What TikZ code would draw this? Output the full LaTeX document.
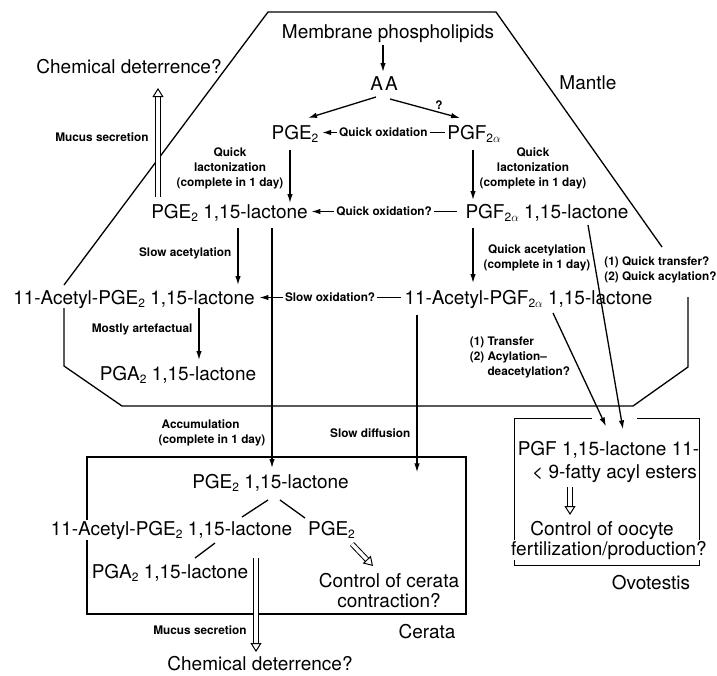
\documentclass[tikz,border=0pt]{standalone}
\usepackage{fontspec}
\setmainfont{TeX Gyre Heros}
\usetikzlibrary{calc}
\usetikzlibrary{arrows.meta}
\newcommand{\pgsub}[1]{\raisebox{-3.5pt}{\fontsize{12}{12}\selectfont#1}}

\begin{document}
\begin{tikzpicture}[unit length/.code={{\newdimen\tikzunit}\setlength{\tikzunit}{#1}},unit length=1pt,x=\tikzunit,y=-\tikzunit,line width=1.3pt,big/.style={font=\fontsize{19}{19.5}\selectfont,inner sep=1pt,anchor=base},lbl/.style={font=\fontsize{11.8}{15}\selectfont\bfseries,inner sep=2pt,align=center},wire/.style={draw,-{Latex[length=9pt,width=5.5pt]}},link/.style={draw},hollow/.style={draw,double,double distance=3.5pt,line width=1pt,-{Triangle[open,length=9pt,width=11pt,line width=1pt]}},frame/.style={rectangle,draw,sharp corners},outer box/.style={draw=none}]
  \useasboundingbox (0,0) rectangle (717,675);
  \draw (64,308) -- (64,366) -- (122,406) -- (633,406) -- (688,367) -- (688,297);
  \draw (662,247) -- (496,12) -- (268,12) -- (64,285);
  \node[big] (n1) at (388,38) {Membrane phospholipids};
  \node[big] (n2) at (384,90) {A\kern2pt A};
  \node[big] (n3) at (295,139) {PGE\pgsub{2}};
  \node[big] (n4) at (474,139) {PGF\pgsub{2$\alpha$}};
  \node[big] (n5) at (229.5,218) {PGE\pgsub{2} 1,15-lactone};
  \node[big] (n6) at (547,218) {PGF\pgsub{2$\alpha$} 1,15-lactone};
  \node[big] (n7) at (134,304) {11-Acetyl-PGE\pgsub{2} 1,15-lactone};
  \node[big] (n8) at (528.5,304) {11-Acetyl-PGF\pgsub{2$\alpha$} 1,15-lactone};
  \node[big] (n9) at (178,380) {PGA\pgsub{2} 1,15-lactone};
  \node[big] (n10) at (129,73) {Chemical deterrence?};
  \node[big] (n11) at (588,89) {Mantle};
  \node[frame,minimum width=379\tikzunit,minimum height=157\tikzunit] (n12) at (276.5,535.5) {};
  \node[big] (n13) at (270.5,488) {PGE\pgsub{2} 1,15-lactone};
  \node[big,fill=white] (n14) at (171.5,535) {11-Acetyl-PGE\pgsub{2} 1,15-lactone};
  \node[big] (n15) at (331.5,535) {PGE\pgsub{2}};
  \node[big] (n16) at (170,578) {PGA\pgsub{2} 1,15-lactone};
  \node[big,align=center,anchor=north] (n17) at (389,572) {Control of cerata\\contraction?};
  \node[big] (n18) at (427,638) {Cerata};
  \node[big] (n19) at (260,670) {Chemical deterrence?};
  \node[outer box,minimum width=184\tikzunit,minimum height=146\tikzunit] (n20) at (607,492) {};
  \draw ($(n20.north)+(-15,0)$) -- (n20.north west) -- (n20.south west) -- (n20.south east) -- (n20.north east) -- ($(n20.north)+(30,0)$);
  \node[big] (n21) at (608.5,455) {PGF 1,15-lactone 11-};
  \node[big] (n22) at (614.5,478) {< 9-fatty acyl esters};
  \node[big] (n23) at (602,535) {Control of oocyte};
  \node[big,fill=white,inner sep=0.5pt] (n24) at (609,555) {fertilization/production?};
  \node[big] (n25) at (651,589) {Ovotestis};
  \path[wire] ($(n1.base)+(-5,7)$) -- ($(n2.base)+(-1,-18)$);
  \path[wire] ($(n2.base)+(-8,7)$) -- ($(n3.base)+(13,-21)$);
  \path[wire] ($(n2.base)+(6,9)$) -- node[lbl,above,pos=0.7] {?} ($(n4.base)+(-14,-21)$);
  \path[wire] ($(n4.base west)+(-1,-6.5)$) -- node[lbl,fill=white] {Quick oxidation} ($(n3.base east)+(2,-6.5)$);
  \path[wire] ($(n3.base)+(-5,11)$) -- node[lbl,left=4pt,pos=0.35] {Quick\\lactonization\\(complete in 1 day)} ($(n5.base)+(60.5,-15)$);
  \path[wire] ($(n4.base)+(-1,11)$) -- node[lbl,right=4pt,pos=0.36] {Quick\\lactonization\\(complete in 1 day)} ($(n6.base)+(-74,-18)$);
  \path[wire] ($(n6.base west)+(-7,-6.5)$) -- node[lbl,fill=white] {Quick oxidation?} ($(n5.base east)+(2,-6.5)$);
  \path[hollow] ($(n5.base)+(-71.5,-21)$) -- node[lbl,left=7pt,pos=0.55] {Mucus secretion} ($(n10.base)+(29,15)$);
  \path[wire] ($(n5.base)+(8.5,10)$) -- node[lbl,left=4pt,pos=0.44] {Slow acetylation} ($(n7.base)+(104,-19)$);
  \path[wire] ($(n5.base)+(42.5,10)$) -- node[lbl,left=4pt,pos=0.854,align=left] {\hspace{3pt}Accumulation\\(complete in 1 day)} ($(n13.base)+(1.5,-20)$);
  \path[wire] ($(n6.base)+(-74,10)$) -- node[lbl,right=8pt,pos=0.54] {Quick acetylation\\(complete in 1 day)} ($(n8.base)+(-55.5,-21)$);
  \path[wire] ($(n8.base west)+(-2,-6.5)$) -- node[lbl,fill=white] {Slow oxidation?} ($(n7.base east)+(3,-6.5)$);
  \path[wire] ($(n7.base)+(65,4)$) -- node[lbl,left=4pt,pos=0.42] {Mostly artefactual} ($(n9.base)+(21,-20)$);
  \path[wire] ($(n8.base)+(-111.5,11)$) -- node[lbl,left=4pt,pos=0.75] {Slow diffusion} ($(n12.north)+(140.5,16)$);
  \path[wire] ($(n6.base)+(41,7)$) -- node[lbl,right=6pt,pos=0.22,align=left] {(1) Quick transfer?\\(2) Quick acylation?} ($(n20.north)+(16,11)$);
  \path[wire] ($(n8.base)+(24.5,9)$) -- node[lbl,left=1pt,pos=0.39,align=left] {(1) Transfer\\(2) Acylation--\\\phantom{(2) }deacetylation?} ($(n20.north)+(-1,8)$);
  \path[link] ($(n13.base)+(-2.5,12)$) -- ($(n14.base)+(70.5,-18)$);
  \path[link] ($(n13.base)+(9.5,12)$) -- ($(n15.base)+(-26.5,-17)$);
  \path[link] ($(n14.base)+(43.5,8)$) -- ($(n16.base)+(25,-20)$);
  \path[hollow] ($(n15.base)+(20.5,9)$) -- ($(n17.north)+(-16,-6)$);
  \path[hollow] ($(n16.base)+(86,-20)$) -- node[lbl,left=7pt,pos=0.77] {Mucus secretion} ($(n19.base)+(-4,-18)$);
  \path[hollow] ($(n22.base)+(-44.5,9)$) -- ($(n23.base)+(-32,-20)$);
\end{tikzpicture}
\end{document}
